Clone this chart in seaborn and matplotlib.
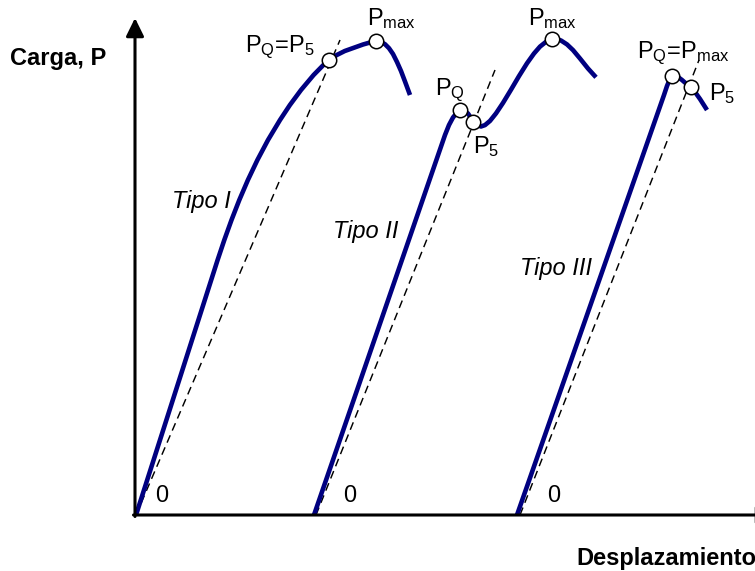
import matplotlib
matplotlib.use("Agg")
import matplotlib.pyplot as plt
import numpy as np
import pandas as pd
import seaborn as sns

# Load-displacement curves (displacement, load) for the three fracture-test types
tipo1_d = [1, 82.6, 89.3, 96.5, 104.3, 112.9, 122.4, 133.0, 145.0, 154.9, 166.0,
           178.6, 188.4, 194.3, 201.8, 209.8, 219.6, 228, 235, 241, 246, 250, 254,
           258, 262, 266, 270, 275]
tipo1_p = [0, 255, 275, 295, 315, 335, 355, 375, 395, 410, 425,
           440, 450, 455, 460, 464, 467.5, 470.5, 472.5, 474, 473, 470.8, 466.8,
           461, 453, 444, 433.5, 420]

tipo2_d = [179, 310, 314, 318, 322, 325, 329, 333, 338, 342, 346, 350, 355, 361, 368,
           376, 384, 392, 399, 405, 411, 416.7, 421, 426, 432, 438, 445, 453, 461]
tipo2_p = [0, 380, 390, 397.5, 402.5, 405, 404.5, 401.5, 394, 390, 388.5, 389.9, 394.1,
           401.6, 412.1, 425.3, 438.9, 451.7, 461.5, 468.4, 473.2, 475.6, 476.0, 474.5,
           470.6, 464.9, 456.5, 446.5, 437.7]

tipo3_d = [382, 529, 532, 534.5, 537, 540, 543, 547, 551, 555.7, 560, 565, 572]
tipo3_p = [0, 420, 429, 435, 438.5, 439, 438, 435, 431.5, 427.7, 423, 416, 405]

# 5 % secant lines (start and end points)
sec_d = [[1, 205], [181, 360], [385, 564]]
sec_p = [[0, 475], [0, 445], [0, 455]]

# Characteristic points marked on the curves
pts_d = [194.3, 241, 325, 338.3, 416.7, 537, 555.7]
pts_p = [455, 474, 405, 393.3, 475.7, 439, 427.7]

# Labels for the characteristic points: text, displacement, load
pt_labels = ["P$_\\mathrm{Q}$=P$_\\mathrm{5}$", "P$_\\mathrm{max}$",
             "P$_\\mathrm{Q}$", "P$_\\mathrm{5}$", "P$_\\mathrm{max}$",
             "P$_\\mathrm{Q}$=P$_\\mathrm{max}$", "P$_\\mathrm{5}$"]
pt_label_d = [110, 232, 300, 338, 393, 502, 574]
pt_label_p = [463, 490, 420, 362, 490, 457, 415]

tipo_labels = ["Tipo I", "Tipo II", "Tipo III"]
tipo_label_d = [37, 198, 385]
tipo_label_p = [307, 277, 240]

zero_d = [20, 208, 412]
zero_p = [13, 13, 13]

sns.set_theme(style="white")
plt.rcParams["font.family"] = ["Liberation Sans", "DejaVu Sans"]
plt.rcParams["mathtext.fontset"] = "custom"
plt.rcParams["mathtext.rm"] = "Liberation Sans"
plt.rcParams["mathtext.it"] = "Liberation Sans:italic"
plt.rcParams["mathtext.bf"] = "Liberation Sans:bold"
plt.rcParams["mathtext.default"] = "regular"

fig = plt.figure(figsize=(7.55, 5.71), dpi=100)
ax = fig.add_axes([0, 0, 1, 1])
ax.set_xlim(-135, 620)
ax.set_ylim(-56, 515)
ax.axis("off")

curves = pd.DataFrame({
    "d": tipo1_d + tipo2_d + tipo3_d,
    "p": tipo1_p + tipo2_p + tipo3_p,
    "curve": ["I"] * len(tipo1_d) + ["II"] * len(tipo2_d) + ["III"] * len(tipo3_d),
})

navy = "#000080"
sns.lineplot(data=curves, x="d", y="p", units="curve", estimator=None, sort=False,
             color=navy, lw=3.3, ax=ax, legend=False, zorder=3,
             solid_capstyle="butt", solid_joinstyle="round")

# dashed secant lines
for d, p in zip(sec_d, sec_p):
    ln = ax.plot(d, p, color="black", lw=1.05, zorder=2)[0]
    ln.set_dashes((5.5, 3.5))

sns.scatterplot(x=pts_d, y=pts_p, s=108, color="white", edgecolor="black",
                linewidth=1.1, ax=ax, zorder=5, legend=False)

# axes with arrowheads
arrow = dict(arrowstyle="-|>,head_length=0.55,head_width=0.27",
             mutation_scale=20, lw=2.2, color="black", shrinkA=0, shrinkB=0)
ax.annotate("", xy=(0, 497), xytext=(0, -1.5), arrowprops=arrow, annotation_clip=False)
ax.annotate("", xy=(640, 0), xytext=(-1.5, 0), arrowprops=arrow, annotation_clip=False)

fs = 17
for t, d, p in zip(pt_labels, pt_label_d, pt_label_p):
    ax.text(d, p, t, fontsize=fs, ha="left", va="baseline", color="black")

for t, d, p in zip(tipo_labels, tipo_label_d, tipo_label_p):
    ax.text(d, p, t, fontsize=fs, style="italic", ha="left", va="baseline", color="black")

for d, p in zip(zero_d, zero_p):
    ax.text(d, p, "0", fontsize=fs, ha="left", va="baseline", color="black")

ax.text(-125, 450, "Carga, P", fontsize=fs, fontweight="bold", ha="left",
        va="baseline", color="black")
ax.text(621, -50, "Desplazamiento", fontsize=fs, fontweight="bold", ha="right",
        va="baseline", color="black")

fig.savefig("out.png", dpi=100)
